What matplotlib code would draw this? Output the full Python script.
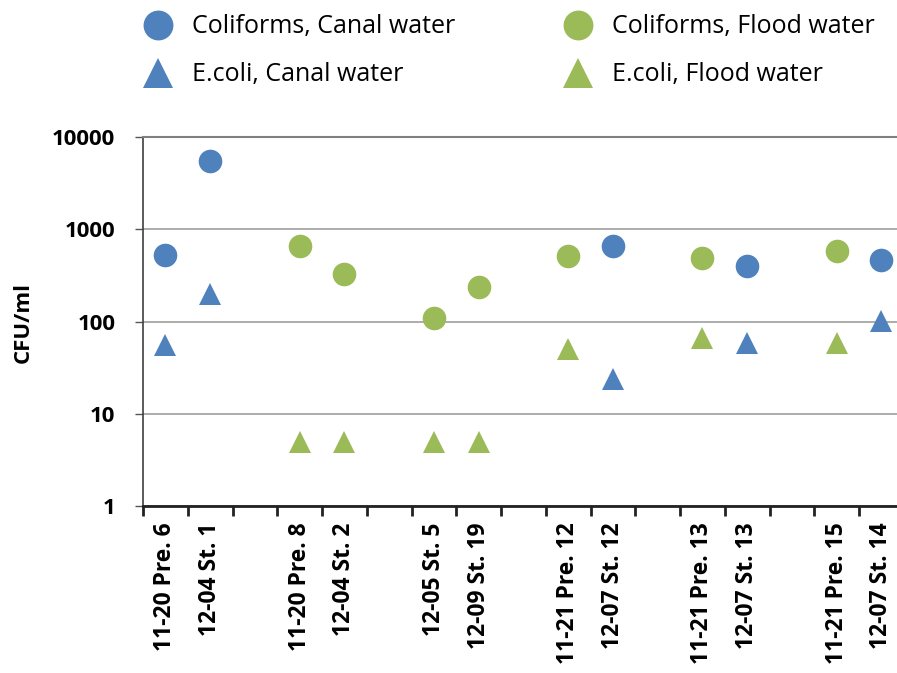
import numpy as np
import matplotlib
matplotlib.use("Agg")
import matplotlib.pyplot as plt
from matplotlib.ticker import FixedLocator, NullLocator

plt.rcParams['font.family'] = ['Open Sans', 'DejaVu Sans']

# Sampling sites (empty strings separate the site pairs)
categories = ["11-20 Pre. 6", "12-04 St. 1", "",
              "11-20 Pre. 8", "12-04 St. 2", "",
              "12-05 St. 5", "12-09 St. 19", "",
              "11-21 Pre. 12", "12-07 St. 12", "",
              "11-21 Pre. 13", "12-07 St. 13", "",
              "11-21 Pre. 15", "12-07 St. 14"]

N = np.nan
coliforms_canal = [525, 5500, N, N, N, N, N, N, N, N, 658, N, N, 403, N, N, 464]
ecoli_canal     = [55, 200, N, N, N, N, N, N, N, N, 24, N, N, 59, N, N, 102]
coliforms_flood = [N, N, N, 663, 325, N, 108, 238, N, 517, N, N, 484, N, N, 586, N]
ecoli_flood     = [N, N, N, 5, 5, N, 5, 5, N, 50, N, N, 66, N, N, 58, N]

y_ticks = [1, 10, 100, 1000, 10000]
y_tick_labels = ["1", "10", "100", "1000", "10000"]

BLUE = "#4F81BD"
GREEN = "#9BBB59"

W, H = 897, 673
fig = plt.figure(figsize=(W / 100, H / 100), dpi=100)
ax = fig.add_axes([143 / W, 1 - 506 / H, 760.75 / W, 369 / H])

x = np.arange(len(categories))
ax.plot(x, coliforms_canal, linestyle="none", marker="o", ms=17, color=BLUE, mew=0, zorder=3)
ax.plot(x, ecoli_canal, linestyle="none", marker="^", ms=16, color=BLUE, mew=0, zorder=3)
ax.plot(x, coliforms_flood, linestyle="none", marker="o", ms=17, color=GREEN, mew=0, zorder=3)
ax.plot(x, ecoli_flood, linestyle="none", marker="^", ms=16, color=GREEN, mew=0, zorder=3)

ax.set_yscale("log")
ax.set_ylim(1, 10000)
ax.set_xlim(-0.5, len(categories) - 0.5)
ax.yaxis.set_major_locator(FixedLocator(y_ticks))
ax.yaxis.set_minor_locator(NullLocator())
ax.set_yticklabels(y_tick_labels, fontsize=16, fontweight="bold")
ax.grid(axis="y", color="#A6A6A6", linewidth=1.3)
ax.set_axisbelow(True)

# category labels sit between tick marks
ax.set_xticks(np.arange(len(categories) + 1) - 0.5)
ax.set_xticklabels([])
ax.set_xticks(x, minor=True)
ax.set_xticklabels(categories, minor=True, rotation=90, fontsize=16.5, fontweight="bold")
ax.tick_params(axis="x", which="minor", length=0, pad=12)
ax.tick_params(axis="x", which="major", length=7, width=2, color="#222222")
ax.tick_params(axis="y", which="major", length=6, width=1, color="#555555", pad=14)

ax.spines["right"].set_visible(False)
ax.spines["top"].set_color("#7F7F7F")
ax.spines["top"].set_linewidth(1.5)
ax.spines["left"].set_color("#404040")
ax.spines["left"].set_linewidth(1.2)
ax.spines["bottom"].set_color("#222222")
ax.spines["bottom"].set_linewidth(2)

fig.text(23 / W, 1 - 322 / H, "CFU/ml", rotation=90, ha="center", va="center",
         fontsize=16, fontweight="bold")

# legend drawn in pixel coordinates on an overlay
lax = fig.add_axes([0, 0, 1, 1])
lax.set_xlim(0, W)
lax.set_ylim(H, 0)
lax.axis("off")
legend_items = [
    (158, 25, "o", BLUE, "Coliforms, Canal water"),
    (158, 73, "^", BLUE, "E.coli, Canal water"),
    (578, 25, "o", GREEN, "Coliforms, Flood water"),
    (578, 73, "^", GREEN, "E.coli, Flood water"),
]
for mx, my, mk, col, label in legend_items:
    lax.plot([mx], [my], marker=mk, ms=21.5, color=col, mew=0, linestyle="none")
    lax.text(mx + 34, my + 1, label, fontsize=18, ha="left", va="center")

fig.savefig("out.png", dpi=100)
